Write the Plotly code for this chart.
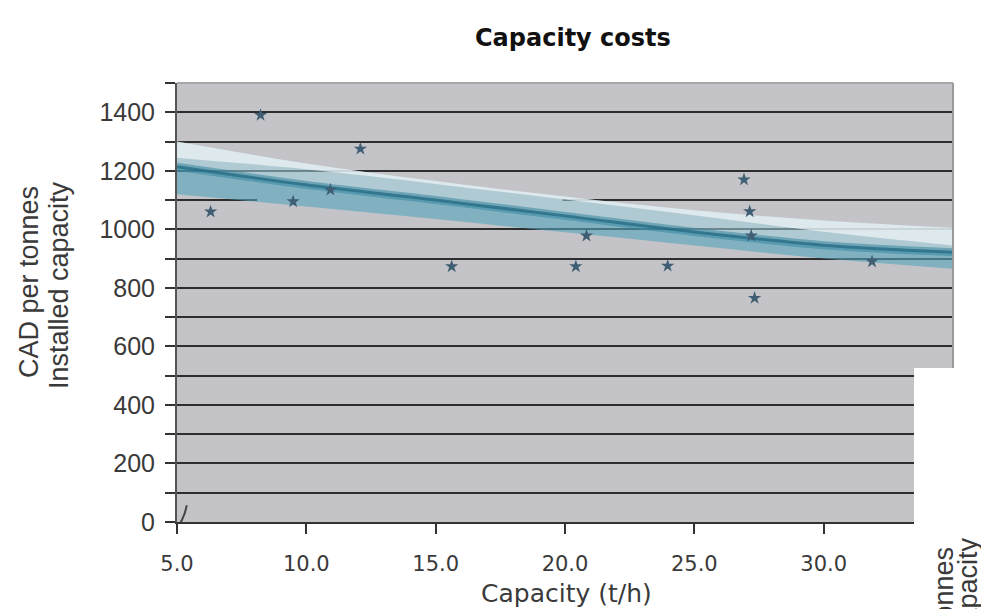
import plotly.graph_objects as go

# ---- data ----
cap_x = [6.30, 8.23, 9.49, 10.93, 12.09, 15.62, 20.42, 20.83, 23.97, 26.92, 27.14, 27.20, 27.33, 31.87]
cost_y = [1060, 1390, 1095, 1135, 1275, 873, 873, 978, 875, 1170, 1061, 978, 765, 890]

trend_x = [5, 10, 15, 20, 25, 30, 35]
trend_mid = [1214, 1152, 1100, 1046, 991, 946, 922]
band_hi = [1300, 1225, 1165, 1112, 1065, 1030, 1005]
band_glow = [1245, 1205, 1155, 1102, 1048, 992, 945]
band_lo = [1120, 1078, 1035, 990, 945, 900, 865]

squiggle_x = [5.0, 5.08, 5.18, 5.3, 5.38]
squiggle_y = [-40, -10, 5, 30, 57]

x_ticks = [5, 10, 15, 20, 25, 30]
y_ticks = [0, 200, 400, 600, 800, 1000, 1200, 1400]
y_minor = [100, 300, 500, 700, 900, 1100, 1300, 1500]

title_text = "Capacity costs"
x_title = "Capacity (t/h)"
y_title_1 = "CAD per tonnes"
y_title_2 = "Installed capacity"

fig = go.Figure()

def band(lo_vals, hi_vals, color):
    fig.add_trace(go.Scatter(x=trend_x, y=hi_vals, mode="lines", line=dict(width=0, shape="spline"),
                             hoverinfo="skip", showlegend=False))
    fig.add_trace(go.Scatter(x=trend_x, y=lo_vals, mode="lines", line=dict(width=0, shape="spline"),
                             fill="tonexty", fillcolor=color, hoverinfo="skip", showlegend=False))

band(trend_mid, band_hi, "rgba(160,208,220,0.55)")    # upper light teal
band(band_glow, band_hi, "rgba(242,247,249,0.70)")    # white highlight
band(band_lo, trend_mid, "rgba(85,165,188,0.60)")     # lower teal

# central trend line
fig.add_trace(go.Scatter(x=trend_x, y=trend_mid, mode="lines",
                         line=dict(width=8, shape="spline", color="rgba(55,135,160,0.55)"),
                         hoverinfo="skip", showlegend=False))
fig.add_trace(go.Scatter(x=trend_x, y=trend_mid, mode="lines",
                         line=dict(width=3, shape="spline", color="rgba(35,105,130,0.75)"),
                         hoverinfo="skip", showlegend=False))

# data points
fig.add_trace(go.Scatter(x=cap_x, y=cost_y, mode="markers",
                         marker=dict(symbol="star", size=10, color="#3f5d73", line=dict(width=0)),
                         showlegend=False))

# small artifact near origin
fig.add_trace(go.Scatter(x=squiggle_x, y=squiggle_y, mode="lines", cliponaxis=False,
                         line=dict(color="#444444", width=2), hoverinfo="skip", showlegend=False))

L, R, T, B = 177, 28, 83, 87
W, H = 981, 609
pw, ph = W - L - R, H - T - B

def px_x(p):
    return (p - L) / pw

def px_y(p):
    return (H - B - p) / ph

ytitle_font = dict(family="Liberation Sans, Arial", size=27, color="#3a3a3a")

fig.update_layout(
    width=W, height=H,
    margin=dict(l=L, r=R, t=T, b=B),
    paper_bgcolor="white",
    plot_bgcolor="#c4c4c8",
    xaxis=dict(range=[5, 35], tickvals=x_ticks, tickformat=".1f",
               ticks="outside", ticklen=10, tickwidth=2, tickcolor="#333333",
               showgrid=False, zeroline=False, showline=True, linecolor="#333333", linewidth=2,
               tickfont=dict(family="DejaVu Sans", size=21, color="#3a3a3a"),
               ticklabelstandoff=12),
    yaxis=dict(range=[0, 1500], tickvals=y_ticks,
               ticks="outside", ticklen=10, tickwidth=2, tickcolor="#333333",
               showgrid=True, gridcolor="#2e2e2e", gridwidth=2,
               minor=dict(tickvals=y_minor, ticks="outside", ticklen=10, tickwidth=2, tickcolor="#333333",
                          showgrid=True, gridcolor="#2e2e2e", gridwidth=2),
               zeroline=False, showline=True, linecolor="#555555", linewidth=2,
               tickfont=dict(family="Liberation Sans, Arial", size=25, color="#3a3a3a"),
               ticklabelstandoff=5),
    font=dict(family="Liberation Sans, Arial"),
    shapes=[
        # gap in the 1100 grid line (as in reference)
        dict(type="line", xref="x", yref="y", x0=8.1, x1=19.9, y0=1100, y1=1100,
             line=dict(color="#c4c4c8", width=4), layer="between"),
        # lighter top border
        dict(type="line", xref="paper", yref="paper", x0=0, x1=1, y0=1, y1=1,
             line=dict(color="#a8a8ab", width=2), layer="above"),
        # right border
        dict(type="line", xref="paper", yref="paper", x0=1, x1=1, y0=0, y1=1,
             line=dict(color="#9a9a9d", width=2), layer="above"),
        # white patch bottom-right
        dict(type="rect", xref="paper", yref="paper", x0=px_x(914), x1=px_x(990),
             y0=px_y(640), y1=px_y(368), fillcolor="white", line=dict(width=0), layer="above"),
    ],
    annotations=[
        dict(text="<b>" + title_text + "</b>", xref="paper", yref="paper",
             x=px_x(573), y=px_y(38), xanchor="center", yanchor="middle", showarrow=False,
             font=dict(family="DejaVu Sans", size=24, color="#111111")),
        dict(text=x_title, xref="paper", yref="paper",
             x=px_x(566), y=px_y(593), xanchor="center", yanchor="middle", showarrow=False,
             font=dict(family="DejaVu Sans", size=25, color="#3a3a3a")),
        dict(text=y_title_1, xref="paper", yref="paper", textangle=-90,
             x=px_x(29), y=px_y(282), xanchor="center", yanchor="middle", showarrow=False,
             font=ytitle_font),
        dict(text=y_title_2, xref="paper", yref="paper", textangle=-90,
             x=px_x(59), y=px_y(285), xanchor="center", yanchor="middle", showarrow=False,
             font=ytitle_font),
        dict(text=y_title_1, xref="paper", yref="paper", textangle=-90,
             x=px_x(944), y=px_y(545), xanchor="center", yanchor="top", showarrow=False,
             font=ytitle_font),
        dict(text=y_title_2, xref="paper", yref="paper", textangle=-90,
             x=px_x(968), y=px_y(535), xanchor="center", yanchor="top", showarrow=False,
             font=ytitle_font),
    ],
)

fig.write_html("out.html")
